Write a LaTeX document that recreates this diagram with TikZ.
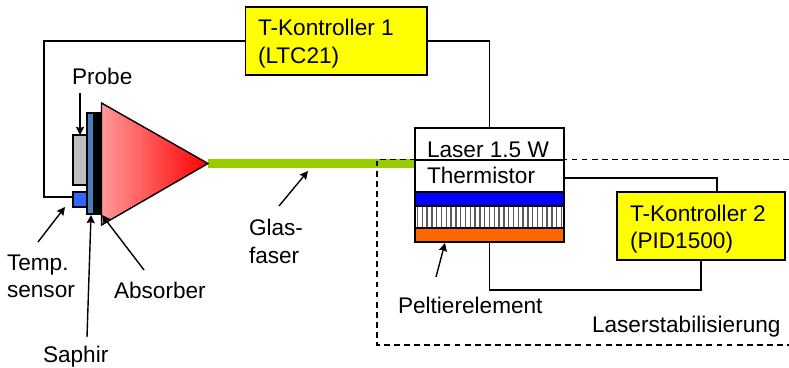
\documentclass[tikz,border=0pt]{standalone}
\usepackage{fontspec}
\setmainfont{Liberation Sans}
\usetikzlibrary{arrows.meta,positioning}
\definecolor{ctrlyellow}{HTML}{FFFF00}
\definecolor{fibregreen}{HTML}{99CC00}
\definecolor{sapphire}{HTML}{4A7EBB}
\definecolor{sensorblue}{HTML}{3366FF}
\definecolor{probegray}{HTML}{C0C0C0}
\definecolor{peltorange}{HTML}{FF6600}
\definecolor{absorbpink}{HTML}{FF9999}
\tikzset{
	>={Stealth[length=7pt,width=7pt,inset=1pt]},
	wire/.style={line width=1.2pt},
	pointer/.style={line width=1.2pt, ->},
	block/.style={draw=black, line width=1.2pt, inner sep=0pt, outer sep=0pt},
	ctrl/.style={block, fill=ctrlyellow, minimum height=2.04cm},
	layer/.style={block, minimum width=4.47cm},
	txt/.style={font=\fontsize{19.3}{23}\selectfont, inner sep=0pt, outer sep=0pt, anchor=base west},
	txtblock/.style={font=\fontsize{19.3}{23.2}\selectfont, inner sep=0pt, outer sep=0pt, anchor=north west, align=left}
}
\begin{document}
\begin{tikzpicture}[x=0.03cm,y=-0.03cm]
  \useasboundingbox (0,0) rectangle (789,368);

  % fibre first, everything else sits on top of it
  \coordinate (fibrestart) at (208,163.5);
  \coordinate (fibreend) at (415,163.5);
  \draw[fibregreen,line width=7.6pt] (fibrestart) -- (fibreend);

  \node[ctrl,minimum width=5.445cm] (ctrl1) at (336.25,41) {};
  \node[ctrl,minimum width=5.04cm] (ctrl2) at (701,226) {};

  % sample stack
  \node[block,fill=probegray,minimum width=0.42cm,minimum height=1.5cm] (probe) at (80,160) {};
  \node[block,fill=sensorblue,minimum width=0.45cm,minimum height=0.45cm] (sensor) at (80.5,199.5) {};
  \node[block,fill=sapphire,minimum width=0.2cm,minimum height=3.03cm] (saphir) at (90.5,163.5) {};
  \node[block,fill=black,minimum width=0.23cm,minimum height=3.03cm] (absorber) at (97.5,163.5) {};
  \shadedraw[left color=absorbpink,right color=red,line width=1.2pt,line join=miter]
    (101.5,103) -- (fibrestart) -- (101.5,225) -- cycle;

  % laser stack
  \node[layer,minimum height=0.96cm,fill=white] (laser) at (489.5,144) {};
  \node[layer,minimum height=0.96cm,fill=white] (therm) at (489.5,176) {};
  \node[layer,minimum height=0.42cm,fill=blue] (cooler) at (489.5,199) {};
  \node[layer,minimum height=0.66cm,fill=white] (stripes) at (489.5,217) {};
  \node[layer,minimum height=0.42cm,fill=peltorange] (peltier) at (489.5,235) {};
  \foreach \i in {0,...,30}
    \draw[line width=1.2pt,black!65] (417.5+\i*4.8,207) -- (417.5+\i*4.8,227);

  % wires
  \coordinate (sensorbend) at (44,197);
  \coordinate (thermout) at (564,178);
  \coordinate (ctrl2in) at (717,192);
  \coordinate (ctrl2out) at (701,260);
  \coordinate (lowbend) at (701,290);
  \draw[wire] (ctrl1.west) -| (sensorbend) -- (sensor.west |- sensorbend);
  \draw[wire] (ctrl1.east) -| (laser.north);
  \draw[wire] (thermout) -| (ctrl2in);
  \draw[wire] (peltier.south) |- (lowbend) -- (ctrl2out);

  % stabilisation frame
  \coordinate (framea) at (789,159.5);
  \coordinate (frameb) at (377,159.5);
  \coordinate (framec) at (377,345);
  \coordinate (framed) at (789,345);
  \draw[line width=0.9pt,dash pattern=on 5pt off 3.6pt] (framea) -- (frameb) -- (framec) -- (framed);

  % labels
  \node[txtblock] (ctrl1txt) at (258,19.5) {T-Kontroller 1\\(LTC21)};
  \node[txtblock] (ctrl2txt) at (630,205) {T-Kontroller 2\\(PID1500)};
  \node[txt] (lasertxt) at (427,157) {Laser 1.5 W};
  \node[txt] (thermtxt) at (427,183) {Thermistor};
  \node[txt] (probetxt) at (72,85) {Probe};
  \node[txtblock] (temptxt) at (7,254.5) {Temp.\\sensor};
  \node[txt] (saphirtxt) at (43,362) {Saphir};
  \node[txt] (absorbtxt) at (114,298) {Absorber};
  \node[txtblock] (glastxt) at (249,219.5) {Glas-\\faser};
  \node[txt] (pelttxt) at (398,313) {Peltierelement};
  \node[txt] (stabtxt) at (592,332) {Laserstabilisierung};

  % pointers
  \coordinate (probefrom) at (80,93);
  \coordinate (tempfrom) at (38,242);
  \coordinate (tempto) at (65,207);
  \coordinate (saphirfrom) at (87,337);
  \coordinate (saphirto) at (91,215);
  \coordinate (absorbfrom) at (144,270);
  \coordinate (absorbto) at (102,215);
  \coordinate (glasfrom) at (279,206);
  \coordinate (glasto) at (308,171);
  \coordinate (peltfrom) at (436,277);
  \coordinate (peltto) at (445,243);
  \draw[pointer] (probefrom) -- (probe.north);
  \draw[pointer] (tempfrom) -- (tempto);
  \draw[pointer] (saphirfrom) -- (saphirto);
  \draw[pointer] (absorbfrom) -- (absorbto);
  \draw[pointer] (glasfrom) -- (glasto);
  \draw[pointer] (peltfrom) -- (peltto);
\end{tikzpicture}
\end{document}
